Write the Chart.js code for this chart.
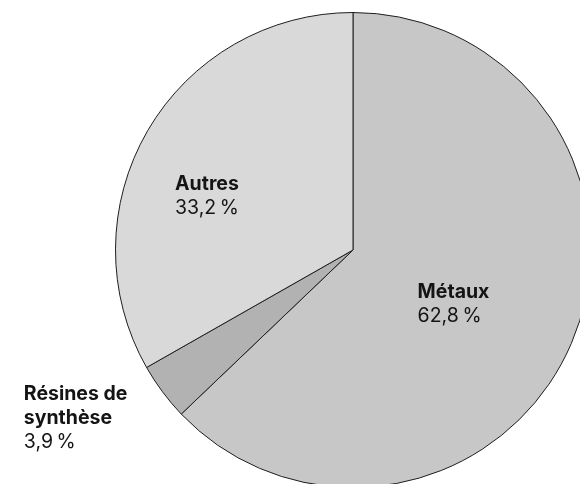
<!DOCTYPE html>
<html lang="fr">
<head>
<meta charset="utf-8">
<script src="https://cdn.jsdelivr.net/npm/chart.js@4/dist/chart.umd.min.js"></script>
<style>
  html, body { margin: 0; padding: 0; background: #ffffff; overflow: hidden; width: 580px; height: 484px; }
  canvas { position: absolute; left: 0; top: 0; }
</style>
</head>
<body>
<canvas id="pie" width="600" height="500"></canvas>
<script>
// Répartition par matière (%)
const categories = ['Métaux', 'Résines de synthèse', 'Autres'];
const values = [62.8, 3.9, 33.2];
// Étiquettes affichées (une ligne par entrée)
const labelLines = [['Métaux'], ['Résines de', 'synthèse'], ['Autres']];

const sliceColors = ['#c6c7c6', '#b2b2b3', '#d9d9d9'];
// Position des étiquettes : fraction du rayon et décalage angulaire (degrés)
const labelPlacement = [
  { r: 0.48, dAngle: 5 },
  { r: 1.365, dAngle: 5.5 },
  { r: 0.655, dAngle: -10 }
];

// Format français : virgule décimale, espace fine insécable avant %
const fmt = v => v.toFixed(1).replace('.', ',') + '\u202F%';

const sliceLabels = {
  id: 'sliceLabels',
  afterDatasetsDraw(chart) {
    const ctx = chart.ctx;
    const meta = chart.getDatasetMeta(0);
    const lineH = 24;
    const bold = '700 19.5px Inter, "Noto Sans", sans-serif';
    const regular = '400 19.5px Inter, "Noto Sans", sans-serif';
    meta.data.forEach((arc, i) => {
      const p = arc.getProps(['x', 'y', 'startAngle', 'endAngle', 'outerRadius'], true);
      const mid = (p.startAngle + p.endAngle) / 2 + labelPlacement[i].dAngle * Math.PI / 180;
      const rr = p.outerRadius * labelPlacement[i].r;
      const cx = p.x + Math.cos(mid) * rr;
      const cy = p.y + Math.sin(mid) * rr;
      const lines = labelLines[i].map(t => ({ t, font: bold }));
      lines.push({ t: fmt(values[i]), font: regular });
      ctx.save();
      let w = 0;
      lines.forEach(l => { ctx.font = l.font; w = Math.max(w, ctx.measureText(l.t).width); });
      const left = cx - w / 2;
      const top = cy - (lines.length * lineH) / 2;
      ctx.fillStyle = '#141414';
      ctx.textAlign = 'left';
      ctx.textBaseline = 'middle';
      lines.forEach((l, k) => {
        ctx.font = l.font;
        ctx.fillText(l.t, left, top + lineH * (k + 0.5));
      });
      ctx.restore();
    });
  }
};

new Chart(document.getElementById('pie'), {
  type: 'pie',
  data: {
    labels: categories,
    datasets: [{
      data: values,
      backgroundColor: sliceColors,
      borderColor: '#1e1e1e',
      borderWidth: 1,
      borderAlign: 'center'
    }]
  },
  options: {
    responsive: false,
    animation: false,
    layout: { padding: { left: 115, top: 12, right: 9, bottom: 12 } },
    plugins: {
      legend: { display: false },
      tooltip: { enabled: false }
    }
  },
  plugins: [sliceLabels]
});
</script>
</body>
</html>
